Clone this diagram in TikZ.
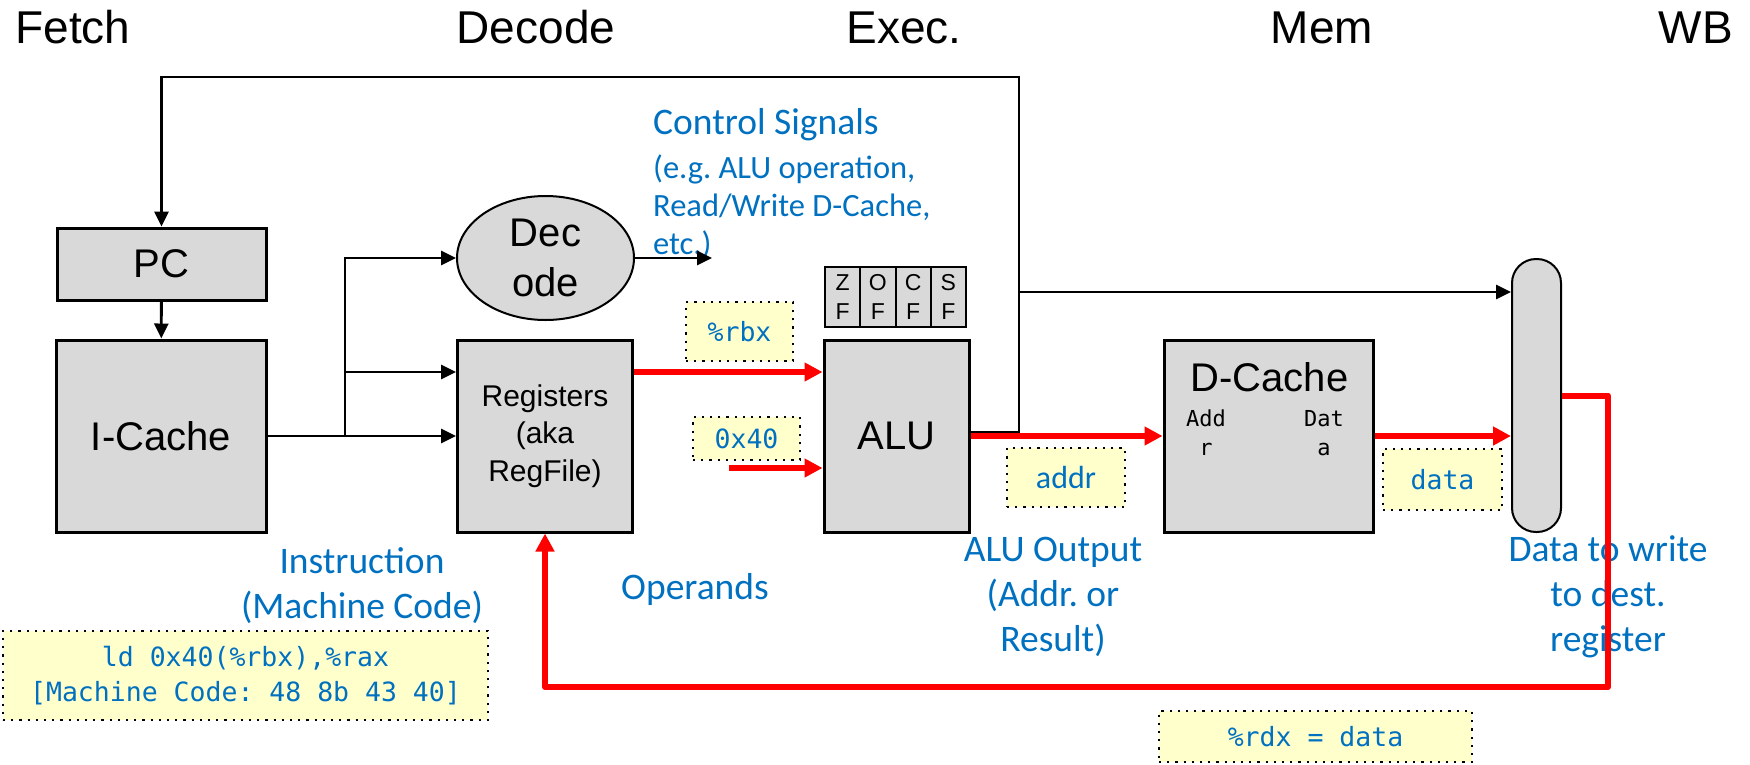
\documentclass[tikz,border=0pt]{standalone}
\usepackage{fontspec}
\setmainfont{Liberation Sans}
\newfontfamily\calib{Carlito}
\newfontfamily\consol{DejaVu Sans Mono}
\usetikzlibrary{arrows.meta,shapes.geometric,calc}
\definecolor{blkgray}{HTML}{D9D9D9}
\definecolor{noteyellow}{HTML}{FFFFCC}
\definecolor{ctlblue}{HTML}{0070C0}
\definecolor{wbred}{HTML}{FF0000}
\frenchspacing

\begin{document}
\begin{tikzpicture}[x=1pt,y=-1pt,
  stage/.style={anchor=base,font=\fontsize{46}{52}\selectfont},
  blk/.style={draw,fill=blkgray,line width=3pt,inner sep=0pt,align=center,font=\fontsize{40}{45}\selectfont},
  flagbox/.style={draw,fill=blkgray,line width=2pt,inner sep=0pt,minimum width=35.25pt,minimum height=60pt,align=center,font=\fontsize{23}{29}\selectfont},
  note/.style={draw,fill=noteyellow,line width=2.2pt,dash pattern=on 2.2pt off 6pt,inner sep=0pt,align=center,text=ctlblue,font=\consol\fontsize{26.5}{35}\selectfont},
  bluetxt/.style={text=ctlblue,inner sep=0pt,align=center,font=\calib\fontsize{37.5}{45}\selectfont},
  wire/.style={line width=2.8pt},
  arr/.style={wire,-{Triangle[length=15pt,width=14pt]}},
  redarr/.style={draw=wbred,line width=6pt,line join=round,-{Triangle[length=18pt,width=18pt]}}
]
\useasboundingbox (0,0) rectangle (1750,764);

% pipeline stages
\node[stage] (sfetch) at (73,43) {Fetch};
\node[stage] (sdecode) at (536,43) {Decode};
\node[stage] (sexec) at (904,43) {Exec.};
\node[stage] (smem) at (1322,43) {Mem};
\node[stage] (swb) at (1696,43) {WB};

% blocks
\node[blk,minimum width=209pt,minimum height=72pt] (pc) at (161.5,264) {PC};
\node[blk,minimum width=210pt,minimum height=192pt] (icache) at (161,436) {I-Cache};
\node[ellipse,draw,fill=blkgray,line width=2pt,inner sep=0pt,minimum width=177pt,minimum height=124pt,align=center,font=\fontsize{40}{50}\selectfont] (decode) at (545.5,258) {Dec\\ode};
\node[blk,minimum width=175pt,minimum height=192pt,font=\fontsize{30}{37.5}\selectfont] (regs) at (545,436) {Registers\\(aka\\RegFile)};
\node[blk,minimum width=145pt,minimum height=192pt] (alu) at (896.5,436) {ALU};
\foreach \f [count=\i] in {Z,O,C,S}
  \node[flagbox] (flag\i) at (807.4+35.25*\i,297) {\f\\F};
\node[blk,minimum width=209pt,minimum height=192pt] (dcache) at (1268.5,436) {};
\node[font=\fontsize{40}{45}\selectfont] (dctitle) at (1269.5,377) {D-Cache};
\node[align=center,font=\consol\fontsize{22}{29}\selectfont] (dcaddr) at (1206,433) {Add\\r};
\node[align=center,font=\consol\fontsize{22}{29}\selectfont] (dcdata) at (1324,433) {Dat\\a};
\node[draw,fill=blkgray,line width=2pt,rounded corners=24pt,minimum width=49pt,minimum height=273pt] (mux) at (1536.5,395.5) {};

% yellow notes
\node[note,minimum width=107pt,minimum height=59pt] (rbxnote) at (739.5,331.5) {\%rbx};
\node[note,minimum width=107pt,minimum height=43pt] (immnote) at (746.5,438.5) {0x40};
\node[note,minimum width=118pt,minimum height=59pt,font=\calib\fontsize{32}{38}\selectfont] (addrnote) at (1066,477.5) {addr};
\node[note,minimum width=119pt,minimum height=61pt] (datanote) at (1442.5,479.5) {data};
\node[note,minimum width=485pt,minimum height=89pt] (instrnote) at (245.5,675.5) {ld 0x40(\%rbx),\%rax\\{[}Machine Code: 48 8b 43 40{]}};
\node[note,minimum width=313pt,minimum height=51pt] (rdxnote) at (1315.5,736.5) {\%rdx = data};

% blue labels
\node[bluetxt,anchor=west] (ctltitle) at (653,125) {Control Signals};
\node[bluetxt,anchor=west,align=left,font=\calib\fontsize{32.5}{38}\selectfont] (ctlnote) at (653,207) {(e.g. ALU operation,\\Read/Write D-Cache,\\etc.)};
\node[bluetxt] (instrlbl) at (362,586) {Instruction\\(Machine Code)};
\node[bluetxt] (oplbl) at (695,589) {Operands};
\node[bluetxt] (alulbl) at (1053,597) {ALU Output\\(Addr. or\\Result)};
\node[bluetxt] (wblbl) at (1608,597) {Data to write\\to dest.\\register};

% fetch / decode wiring
\coordinate (fork) at (345,436);
\coordinate (rin) at ([yshift=64pt]regs.west);
\coordinate (ctlend) at (712,258);
\draw[arr] (pc) -- (icache);
\draw[arr] (icache.east) -- (regs.west);
\draw[arr] (fork) |- (decode.west);
\draw[arr] (fork |- rin) -- (rin);
\draw[arr] (decode.east) -- (ctlend);

% data path
\coordinate (immsrc) at (729,468);
\coordinate (wbcorner) at (1608,687);
\draw[redarr] ([yshift=64pt]regs.east) -- ([yshift=64pt]alu.west);
\draw[redarr] (immsrc) -- (alu.west |- immsrc);
\draw[redarr] (alu.east) -- (dcache.west);
\draw[redarr] (dcache.east) -- (mux.west |- dcache.east);
\draw[redarr] (mux.east) -| (wbcorner) -| (regs.south);

% next pc loop and bypass to writeback
\coordinate (aluout) at (1019,432);
\coordinate (pcloop) at (1019,77);
\coordinate (jn) at (1019,292);
\draw[arr] (alu.east |- aluout) -- (aluout) -- (pcloop) -| (pc.north);
\draw[arr] (jn) -- (mux.west |- jn);
\end{tikzpicture}
\end{document}
